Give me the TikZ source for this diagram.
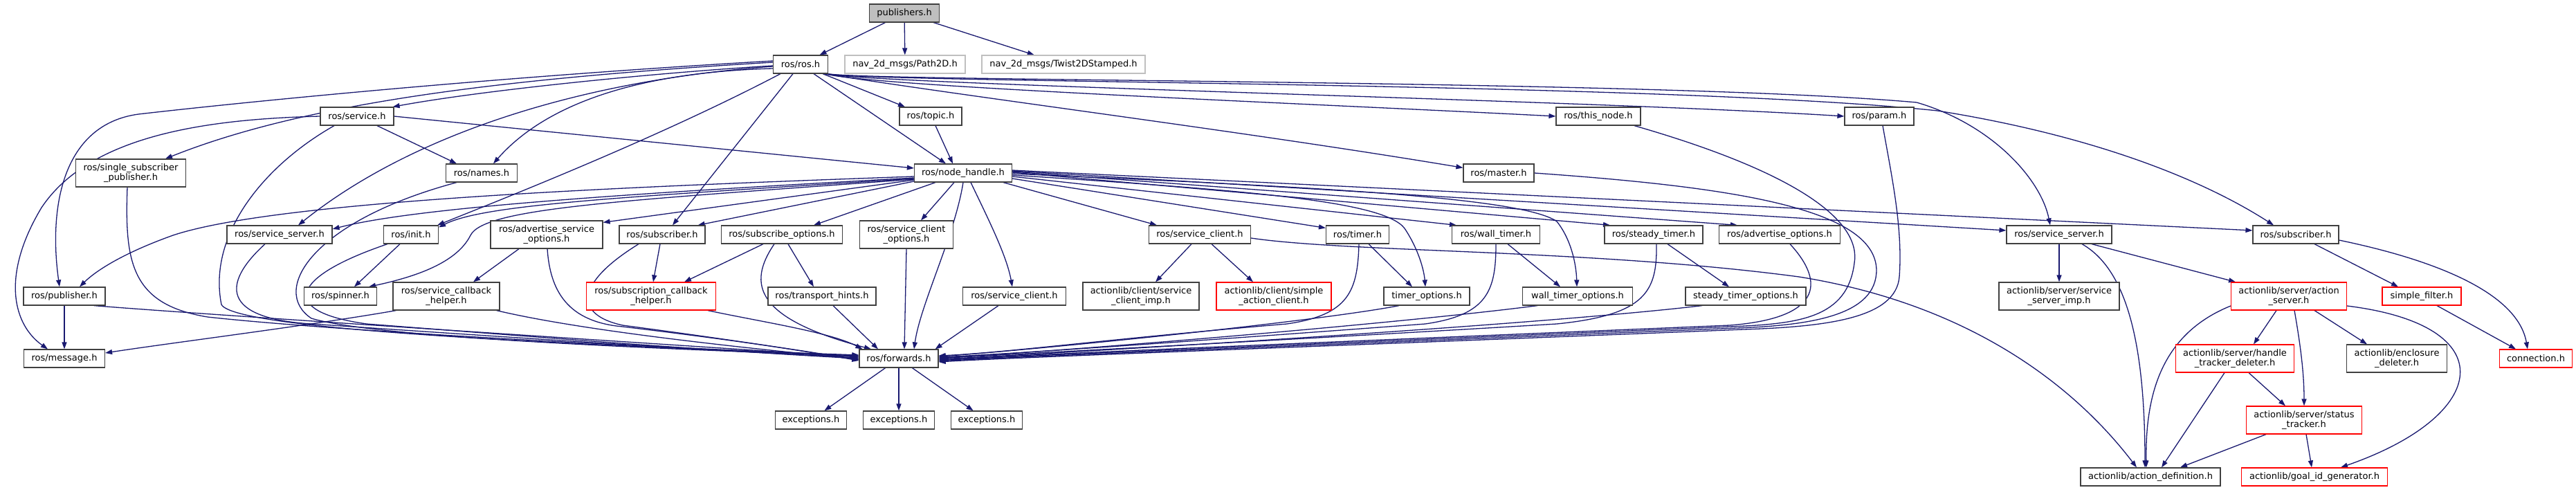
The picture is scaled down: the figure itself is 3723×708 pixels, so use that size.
\documentclass[tikz,border=0pt]{standalone}
\usepackage{fontspec}
\setmainfont{DejaVu Sans}
\usetikzlibrary{arrows.meta,backgrounds}
\definecolor{edgec}{HTML}{191970}
\definecolor{bord}{HTML}{404040}
\definecolor{redb}{HTML}{FF0000}
\definecolor{grayb}{HTML}{BFBFBF}
\definecolor{fillg}{HTML}{BFBFBF}
\tikzset{
  nd/.style={draw=bord, line width=1.2pt, fill=white, minimum height=26pt, inner sep=0pt, align=center, font=\fontsize{13}{14}\selectfont},
  tall/.style={minimum height=40pt},
  rnd/.style={draw=redb},
  gnd/.style={draw=grayb},
  ed/.style={draw=edgec, line width=1.3pt, -{Triangle[length=10pt,width=7pt]}}
}
\begin{document}
\begin{tikzpicture}[x=1pt,y=-1pt]
\useasboundingbox (0,0) rectangle (3723,708);
% row 0-3
\node[nd,fill=fillg,minimum width=101pt] (pub) at (1307,19) {publishers.h};
\node[nd,minimum width=79pt] (ros) at (1157,93) {ros/ros.h};
\node[nd,gnd,minimum width=174pt] (path) at (1308,93) {nav\_2d\_msgs/Path2D.h};
\node[nd,gnd,minimum width=236pt] (twist) at (1537,93) {nav\_2d\_msgs/Twist2DStamped.h};
\node[nd,minimum width=106pt] (service) at (516,168) {ros/service.h};
\node[nd,minimum width=90pt] (topic) at (1345,168) {ros/topic.h};
\node[nd,minimum width=122pt] (thisnode) at (2310,168) {ros/this\_node.h};
\node[nd,minimum width=100pt] (param) at (2716,168) {ros/param.h};
\node[nd,tall,minimum width=159pt] (ssp) at (189,250) {ros/single\_subscriber\\\_publisher.h};
\node[nd,minimum width=103pt] (names) at (696,250) {ros/names.h};
\node[nd,minimum width=141pt] (nh) at (1392,250) {ros/node\_handle.h};
\node[nd,minimum width=102pt] (master) at (2166,250) {ros/master.h};
% row 4
\node[nd,minimum width=152pt] (srvL) at (404,339) {ros/service\_server.h};
\node[nd,minimum width=79pt] (init) at (594,339) {ros/init.h};
\node[nd,tall,minimum width=162pt] (aso) at (790,339) {ros/advertise\_service\\\_options.h};
\node[nd,minimum width=124pt] (subL) at (957,339) {ros/subscriber.h};
\node[nd,minimum width=175pt] (subopt) at (1130,339) {ros/subscribe\_options.h};
\node[nd,tall,minimum width=135pt] (sco) at (1310,339) {ros/service\_client\\\_options.h};
\node[nd,minimum width=147pt] (scliA) at (1734,339) {ros/service\_client.h};
\node[nd,minimum width=91pt] (timer) at (1962,339) {ros/timer.h};
\node[nd,minimum width=127pt] (wtimer) at (2162,339) {ros/wall\_timer.h};
\node[nd,minimum width=142pt] (steady) at (2390,339) {ros/steady\_timer.h};
\node[nd,minimum width=175pt] (advopt) at (2572,339) {ros/advertise\_options.h};
\node[nd,minimum width=152pt] (srvR) at (2976,339) {ros/service\_server.h};
\node[nd,minimum width=124pt] (subR) at (3318,339) {ros/subscriber.h};
% row 5
\node[nd,minimum width=118pt] (publisher) at (93,428) {ros/publisher.h};
\node[nd,minimum width=105pt] (spinner) at (492,428) {ros/spinner.h};
\node[nd,tall,minimum width=154pt] (sch) at (645,428) {ros/service\_callback\\\_helper.h};
\node[nd,tall,rnd,minimum width=187pt] (subcb) at (941,428) {ros/subscription\_callback\\\_helper.h};
\node[nd,minimum width=156pt] (transport) at (1188,428) {ros/transport\_hints.h};
\node[nd,minimum width=149pt] (scliB) at (1466,428) {ros/service\_client.h};
\node[nd,tall,minimum width=168pt] (sciimp) at (1649,428) {actionlib/client/service\\\_client\_imp.h};
\node[nd,tall,rnd,minimum width=166pt] (sac) at (1841,428) {actionlib/client/simple\\\_action\_client.h};
\node[nd,minimum width=124pt] (topt) at (2062,428) {timer\_options.h};
\node[nd,minimum width=159pt] (wtopt) at (2280,428) {wall\_timer\_options.h};
\node[nd,minimum width=174pt] (stopt) at (2523,428) {steady\_timer\_options.h};
\node[nd,tall,minimum width=174pt] (ssimp) at (2976,428) {actionlib/server/service\\\_server\_imp.h};
\node[nd,tall,rnd,minimum width=167pt] (actsrv) at (3308,428) {actionlib/server/action\\\_server.h};
\node[nd,rnd,minimum width=114pt] (sfilter) at (3500,428) {simple\_filter.h};
% row 6-8
\node[nd,minimum width=117pt] (message) at (93,518) {ros/message.h};
\node[nd,minimum width=114pt] (forwards) at (1299,518) {ros/forwards.h};
\node[nd,tall,rnd,minimum width=171pt] (htd) at (3230,518) {actionlib/server/handle\\\_tracker\_deleter.h};
\node[nd,tall,minimum width=145pt] (encl) at (3464,518) {actionlib/enclosure\\\_deleter.h};
\node[nd,rnd,minimum width=105pt] (conn) at (3665,518) {connection.h};
\node[nd,minimum width=103pt] (exA) at (1172,607) {exceptions.h};
\node[nd,minimum width=103pt] (exB) at (1299,607) {exceptions.h};
\node[nd,minimum width=103pt] (exC) at (1426,607) {exceptions.h};
\node[nd,tall,rnd,minimum width=167pt] (stat) at (3330,607) {actionlib/server/status\\\_tracker.h};
\node[nd,minimum width=202pt] (actdef) at (3108,689) {actionlib/action\_definition.h};
\node[nd,rnd,minimum width=211pt] (goalid) at (3345,689) {actionlib/goal\_id\_generator.h};

\begin{scope}[on background layer]
\fill[white] (0,0) rectangle (3723,708);
% publishers.h
\draw[ed] (pub) -- (ros);
\draw[ed] (pub) -- (path);
\draw[ed] (pub) -- (twist);
% ros/ros.h
\draw[ed] ([yshift=-2pt]ros.west) .. controls (950,105) and (700,130) .. ([xshift=-2pt]service.north east);
\draw[ed] ([yshift=3pt]ros.west) .. controls (750,112) and (450,145) .. ([xshift=50pt]ssp.north);
\draw[ed] ([yshift=5pt]ros.west) .. controls (700,112) and (330,150) .. (200,165) .. controls (90,180) and (70,300) .. ([xshift=-7pt]publisher.north);
\draw[ed] ([yshift=-6pt]ros.west) .. controls (900,105) and (780,160) .. ([xshift=17pt]names.north);
\draw[ed] ([yshift=-3pt]ros.west) .. controls (850,115) and (600,190) .. ([xshift=27pt]srvL.north);
\draw[ed] ([xshift=-29pt]ros.south) .. controls (950,200) and (720,290) .. ([xshift=-2pt]init.north east);
\draw[ed] ([xshift=-11pt]ros.south) -- ([xshift=15pt]subL.north);
\draw[ed] ([xshift=19pt]ros.south) -- ([xshift=-25pt]nh.north);
\draw[ed] ([xshift=-8pt]ros.south east) -- ([xshift=-37pt]topic.north);
\draw[ed] ([xshift=-5pt]ros.south east) .. controls (1260,125) and (1900,150) .. (thisnode.west);
\draw[ed] ([xshift=-4pt]ros.south east) .. controls (1260,122) and (2300,145) .. (param.west);
\draw[ed] ([xshift=-6pt]ros.south east) .. controls (1400,140) and (1800,190) .. ([yshift=-6pt]master.north west);
\draw[ed] ([xshift=-1pt]ros.south east) .. controls (1260,118) and (2400,115) .. (2770,148) .. controls (2880,180) and (2950,260) .. ([xshift=-13pt]srvR.north);
\draw[ed] ([xshift=-2pt]ros.south east) .. controls (1260,120) and (2400,118) .. (2800,160) .. controls (3050,200) and (3200,270) .. ([xshift=-32pt]subR.north);
% topic, service
\draw[ed] ([xshift=7pt]topic.south) -- ([xshift=-15pt]nh.north);
\draw[ed] ([xshift=29pt]service.south) -- ([xshift=-36pt]names.north);
\draw[ed] (service.east) -- ([yshift=7pt]nh.west);
\draw[ed] (service.west) .. controls (300,172) and (130,195) .. (60,300) .. controls (0,400) and (20,470) .. ([xshift=-24pt]message.north);
\draw[ed] ([xshift=-33pt]service.south) .. controls (380,240) and (300,340) .. (320,440) .. controls (340,480) and (900,500) .. ([yshift=4pt]forwards.west);
\draw[ed] ([xshift=-36pt]names.south) .. controls (450,320) and (390,420) .. (450,460) .. controls (550,490) and (1000,505) .. ([yshift=3pt]forwards.west);
\draw[ed] ([xshift=-5pt]ssp.south) .. controls (180,380) and (190,440) .. (300,458) .. controls (500,480) and (1000,505) .. ([yshift=5pt]forwards.west);
% publisher, service_server, init
\draw[ed] (publisher) -- (message);
\draw[ed] ([xshift=43pt]publisher.south) .. controls (300,455) and (1000,500) .. ([yshift=2pt]forwards.west);
\draw[ed] ([xshift=-21pt]srvL.south) .. controls (320,410) and (320,460) .. (450,468) .. controls (700,485) and (1000,505) .. ([yshift=1pt]forwards.west);
\draw[ed] ([xshift=-34pt]init.south) .. controls (420,400) and (400,450) .. (530,468) .. controls (750,485) and (1000,505) .. (forwards.west);
\draw[ed] ([xshift=-16pt]init.south) -- ([xshift=20pt]spinner.north);
% service callback helper, advertise service options
\draw[ed] ([xshift=5pt]sch.south west) .. controls (450,470) and (250,495) .. ([yshift=8pt]message.east);
\draw[ed] ([xshift=-5pt]sch.south east) .. controls (850,480) and (1100,505) .. ([yshift=-1pt]forwards.west);
\draw[ed] ([xshift=-40pt]aso.south) -- ([xshift=39pt]sch.north);
\draw[ed] ([xshift=1pt]aso.south) .. controls (795,420) and (820,465) .. (900,472) .. controls (1050,490) and (1150,505) .. ([yshift=-2pt]forwards.west);
% subscriber, subscribe options
\draw[ed] ([xshift=-3pt]subL.south) -- ([xshift=3pt]subcb.north);
\draw[ed] ([xshift=-34pt]subL.south) .. controls (830,410) and (830,455) .. (900,470) .. controls (1050,490) and (1150,505) .. ([yshift=-3pt]forwards.west);
\draw[ed] ([xshift=-27pt]subopt.south) -- ([xshift=48pt]subcb.north);
\draw[ed] ([xshift=9pt]subopt.south) -- ([xshift=-12pt]transport.north);
\draw[ed] ([xshift=-11pt]subopt.south) .. controls (1080,410) and (1090,460) .. ([xshift=-40pt]forwards.north);
\draw[ed] ([xshift=-12pt]subcb.south east) .. controls (1100,465) and (1200,480) .. ([xshift=5pt]forwards.north west);
\draw[ed] ([xshift=16pt]transport.south) -- ([xshift=-30pt]forwards.north);
\draw[ed] (sco.south) -- ([xshift=8pt]forwards.north);
\draw[ed] (nh.south) .. controls (1380,340) and (1330,440) .. ([xshift=22pt]forwards.north);
\draw[ed] ([xshift=-23pt]scliB.south) -- ([xshift=-5pt]forwards.north east);
% from the right into forwards
\draw[ed] ([xshift=2pt]timer.south) .. controls (1962,420) and (1950,455) .. (1860,468) .. controls (1600,490) and (1450,510) .. ([yshift=4pt]forwards.east);
\draw[ed] ([xshift=-40pt]topt.south) .. controls (1900,465) and (1500,505) .. ([yshift=3pt]forwards.east);
\draw[ed] (wtimer.south) .. controls (2162,420) and (2150,455) .. (2060,468) .. controls (1700,495) and (1450,512) .. ([yshift=2pt]forwards.east);
\draw[ed] ([xshift=-58pt]wtopt.south) .. controls (2000,470) and (1500,510) .. ([yshift=1pt]forwards.east);
\draw[ed] ([xshift=4pt]steady.south) .. controls (2395,420) and (2380,455) .. (2250,468) .. controls (1800,495) and (1450,512) .. (forwards.east);
\draw[ed] ([xshift=-63pt]stopt.south) .. controls (2200,472) and (1500,512) .. ([yshift=-1pt]forwards.east);
\draw[ed] ([xshift=15pt]advopt.south) .. controls (2640,410) and (2630,460) .. (2500,470) .. controls (1900,495) and (1450,514) .. ([yshift=-2pt]forwards.east);
\draw[ed] ([xshift=52pt]thisnode.south) .. controls (2600,250) and (2690,320) .. (2680,380) .. controls (2670,460) and (2600,468) .. (2500,472) .. controls (1900,497) and (1450,515) .. ([yshift=-3pt]forwards.east);
\draw[ed] (master.east) .. controls (2500,270) and (2710,300) .. (2712,390) .. controls (2712,455) and (2620,470) .. (2510,474) .. controls (1900,499) and (1450,516) .. ([yshift=-4pt]forwards.east);
\draw[ed] ([xshift=5pt]param.south) .. controls (2735,260) and (2750,330) .. (2745,400) .. controls (2740,460) and (2640,472) .. (2520,476) .. controls (1900,501) and (1450,517) .. ([yshift=-5pt]forwards.east);
% node_handle.h
\draw[ed] ([yshift=-5pt]nh.west) .. controls (900,270) and (400,290) .. (250,340) .. controls (180,365) and (140,390) .. ([xshift=22pt]publisher.north);
\draw[ed] ([yshift=-7pt]nh.west) .. controls (900,280) and (600,300) .. ([yshift=8pt]srvL.east);
\draw[ed] ([yshift=-8pt]nh.west) .. controls (900,285) and (700,295) .. ([yshift=-3pt]init.north east);
\draw[ed] ([yshift=-9pt]nh.west) .. controls (900,290) and (700,300) .. (680,340) .. controls (660,380) and (600,400) .. ([xshift=41pt]spinner.north);
\draw[ed] ([yshift=-10pt]nh.west) -- ([yshift=-3pt]aso.north east);
\draw[ed] ([yshift=-12pt]nh.west) -- ([xshift=-11pt]subL.north east);
\draw[ed] ([xshift=-40pt]nh.south) -- ([xshift=46pt]subopt.north);
\draw[ed] ([xshift=-13pt]nh.south) -- ([xshift=21pt]sco.north);
\draw[ed] ([xshift=11pt]nh.south) .. controls (1430,320) and (1455,370) .. ([xshift=-3pt]scliB.north);
\draw[ed] ([xshift=58pt]nh.south) -- ([xshift=-62pt]scliA.north);
\draw[ed] ([yshift=-8pt]nh.east) -- ([yshift=-4pt]timer.north west);
\draw[ed] ([yshift=-3pt]nh.east) .. controls (1800,275) and (2000,290) .. (2030,330) .. controls (2050,360) and (2058,390) .. ([xshift=-2pt]topt.north);
\draw[ed] ([yshift=-5pt]nh.east) -- ([xshift=-57pt]wtimer.north);
\draw[ed] ([yshift=-1pt]nh.east) .. controls (1900,270) and (2200,285) .. (2250,320) .. controls (2270,345) and (2278,380) .. ([xshift=-1pt]wtopt.north);
\draw[ed] ([yshift=1pt]nh.east) -- ([xshift=-63pt]steady.north);
\draw[ed] ([yshift=2pt]nh.east) -- ([xshift=-61pt]advopt.north);
\draw[ed] ([yshift=3pt]nh.east) -- ([yshift=6pt]srvR.west);
\draw[ed] ([yshift=4pt]nh.east) -- ([yshift=6pt]subR.west);
% service_client, timers
\draw[ed] ([xshift=-12pt]scliA.south) -- ([xshift=21pt]sciimp.north);
\draw[ed] ([xshift=17pt]scliA.south) -- ([xshift=-30pt]sac.north);
\draw[ed] ([yshift=-5pt]scliA.east) .. controls (1950,365) and (2300,360) .. (2600,400) .. controls (2850,440) and (3000,560) .. ([xshift=-20pt]actdef.north);
\draw[ed] ([xshift=16pt]timer.south) -- ([xshift=-21pt]topt.north);
\draw[ed] ([xshift=17pt]wtimer.south) -- ([xshift=-25pt]wtopt.north);
\draw[ed] ([xshift=20pt]steady.south) -- ([xshift=-24pt]stopt.north);
% right part
\draw[ed] (srvR) -- (ssimp);
\draw[ed] ([xshift=47pt]srvR.south) -- ([xshift=-77pt]actsrv.north);
\draw[ed] ([xshift=33pt]srvR.south) .. controls (3075,390) and (3100,500) .. ([xshift=-8pt]actdef.north);
\draw[ed] ([xshift=27pt]subR.south) -- ([xshift=-34pt]sfilter.north);
\draw[ed] ([yshift=-8pt]subR.east) .. controls (3540,380) and (3640,430) .. ([xshift=-12pt]conn.north);
\draw[ed] ([xshift=22pt]sfilter.south) -- ([xshift=-29pt]conn.north);
\draw[ed] ([xshift=-18pt]actsrv.south) -- ([xshift=27pt]htd.north);
\draw[ed] ([xshift=37pt]actsrv.south) -- ([xshift=-43pt]encl.north);
\draw[ed] ([xshift=8pt]actsrv.south) .. controls (3325,500) and (3330,540) .. (stat.north);
\draw[ed] ([yshift=-14pt]actsrv.west) .. controls (3130,480) and (3100,560) .. ([xshift=-6pt]actdef.north);
\draw[ed] ([yshift=-14pt]actsrv.east) .. controls (3620,470) and (3600,600) .. ([xshift=38pt]goalid.north);
\draw[ed] ([xshift=20pt]htd.south) -- ([xshift=-27pt]stat.north);
\draw[ed] ([xshift=-15pt]htd.south) -- ([xshift=16pt]actdef.north);
\draw[ed] ([xshift=-55pt]stat.south) -- ([xshift=43pt]actdef.north);
\draw[ed] ([xshift=3pt]stat.south) -- ([xshift=-4pt]goalid.north);
% forwards -> exceptions
\draw[ed] (forwards) -- (exA);
\draw[ed] (forwards) -- (exB);
\draw[ed] (forwards) -- (exC);
\end{scope}
\end{tikzpicture}
\end{document}
